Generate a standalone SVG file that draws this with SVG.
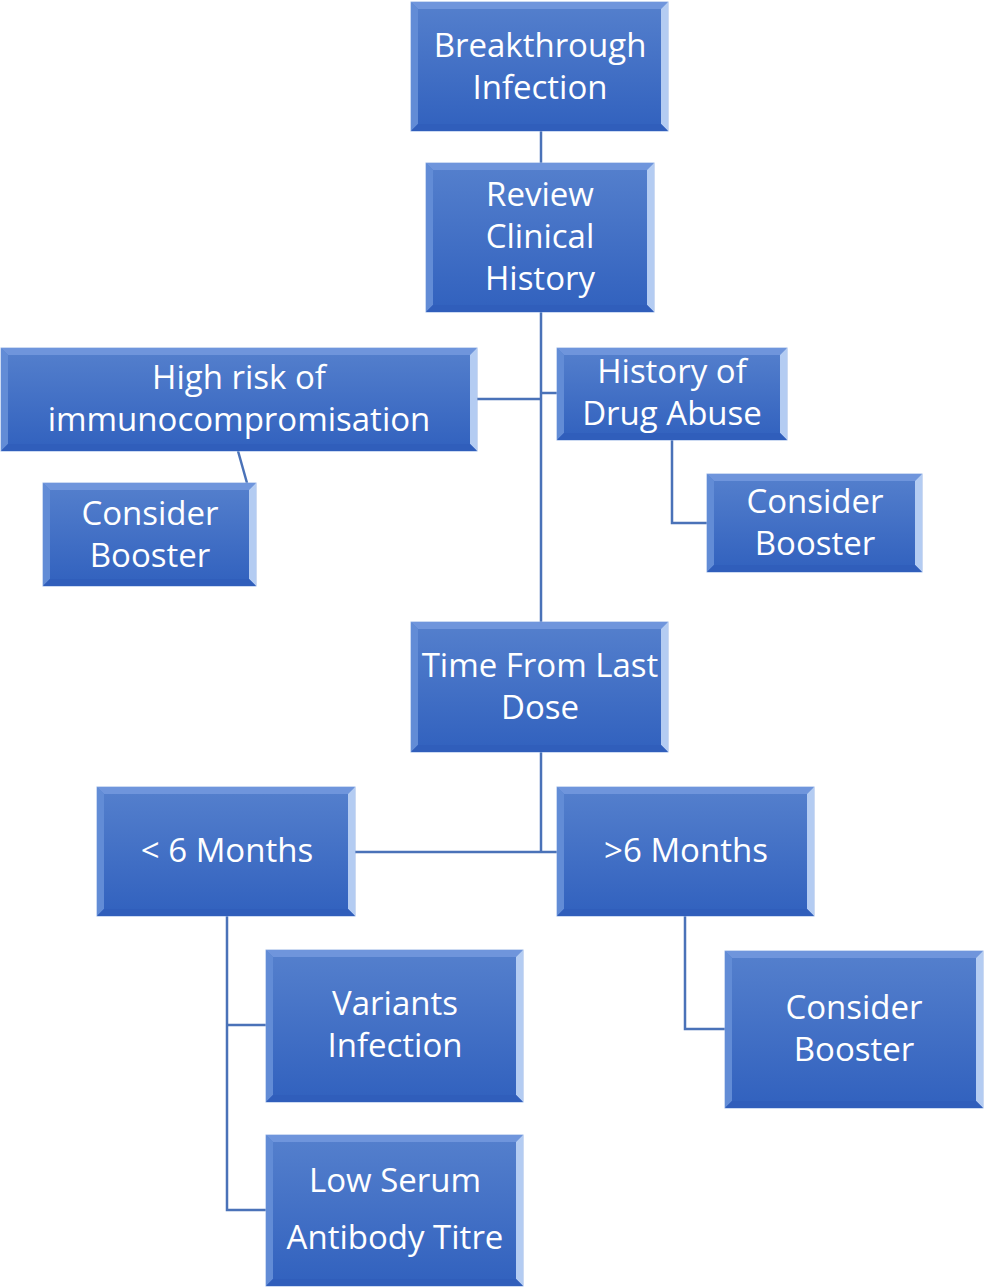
<svg xmlns="http://www.w3.org/2000/svg" width="984" height="1287" viewBox="0 0 984 1287">
<defs>
<linearGradient id="fill" x1="0" y1="0" x2="0" y2="1">
<stop offset="0" stop-color="#5580cd"/>
<stop offset="1" stop-color="#3161be"/>
</linearGradient>
</defs>
<style>
.box{fill:url(#fill);stroke:#9ab6e6;stroke-width:1}
.bt{fill:#6f95dc}
.bl{fill:#628cd6}
.br{fill:#b4ccf2}
.bb{fill:#305ebb}
.lbl{font-family:"Open Sans","Liberation Sans",sans-serif;font-size:33px;fill:#ffffff;text-anchor:middle}
.conn{fill:none;stroke:#4a72b8;stroke-width:2.5}
</style>
<g id="connectors">
<path class="conn" d="M541,131 V163"/>
<path class="conn" d="M541,312 V622"/>
<path class="conn" d="M477,399 H541"/>
<path class="conn" d="M541,393 H557"/>
<path class="conn" d="M238,451 L247,483"/>
<path class="conn" d="M672,440 V523 H707"/>
<path class="conn" d="M541,752 V852"/>
<path class="conn" d="M355,852 H557"/>
<path class="conn" d="M227,916 V1210 H266"/>
<path class="conn" d="M227,1025 H266"/>
<path class="conn" d="M685,916 V1029 H725"/>
</g>
<g id="n1">
<rect class="box" x="411" y="2" width="257" height="129"/>
<polygon class="bt" points="411,2 668,2 661,9 418,9"/>
<polygon class="bl" points="411,2 418,9 418,124 411,131"/>
<polygon class="br" points="668,2 668,131 661,124 661,9"/>
<polygon class="bb" points="411,131 668,131 661,124 418,124"/>
<text class="lbl" x="540" y="57">Breakthrough</text>
<text class="lbl" x="540" y="99">Infection</text>
</g>
<g id="n2">
<rect class="box" x="426" y="163" width="228" height="149"/>
<polygon class="bt" points="426,163 654,163 647,170 433,170"/>
<polygon class="bl" points="426,163 433,170 433,305 426,312"/>
<polygon class="br" points="654,163 654,312 647,305 647,170"/>
<polygon class="bb" points="426,312 654,312 647,305 433,305"/>
<text class="lbl" x="540" y="206">Review</text>
<text class="lbl" x="540" y="248">Clinical</text>
<text class="lbl" x="540" y="290">History</text>
</g>
<g id="n3">
<rect class="box" x="1" y="348" width="476" height="103"/>
<polygon class="bt" points="1,348 477,348 470,355 8,355"/>
<polygon class="bl" points="1,348 8,355 8,444 1,451"/>
<polygon class="br" points="477,348 477,451 470,444 470,355"/>
<polygon class="bb" points="1,451 477,451 470,444 8,444"/>
<text class="lbl" x="239" y="389">High risk of</text>
<text class="lbl" x="239" y="431">immunocompromisation</text>
</g>
<g id="n4">
<rect class="box" x="43" y="483" width="213" height="103"/>
<polygon class="bt" points="43,483 256,483 249,490 50,490"/>
<polygon class="bl" points="43,483 50,490 50,579 43,586"/>
<polygon class="br" points="256,483 256,586 249,579 249,490"/>
<polygon class="bb" points="43,586 256,586 249,579 50,579"/>
<text class="lbl" x="150" y="525">Consider</text>
<text class="lbl" x="150" y="567">Booster</text>
</g>
<g id="n5">
<rect class="box" x="557" y="348" width="230" height="92"/>
<polygon class="bt" points="557,348 787,348 780,355 564,355"/>
<polygon class="bl" points="557,348 564,355 564,433 557,440"/>
<polygon class="br" points="787,348 787,440 780,433 780,355"/>
<polygon class="bb" points="557,440 787,440 780,433 564,433"/>
<text class="lbl" x="672" y="383">History of</text>
<text class="lbl" x="672" y="425">Drug Abuse</text>
</g>
<g id="n6">
<rect class="box" x="707" y="474" width="215" height="98"/>
<polygon class="bt" points="707,474 922,474 915,481 714,481"/>
<polygon class="bl" points="707,474 714,481 714,565 707,572"/>
<polygon class="br" points="922,474 922,572 915,565 915,481"/>
<polygon class="bb" points="707,572 922,572 915,565 714,565"/>
<text class="lbl" x="815" y="513">Consider</text>
<text class="lbl" x="815" y="555">Booster</text>
</g>
<g id="n7">
<rect class="box" x="411" y="622" width="257" height="130"/>
<polygon class="bt" points="411,622 668,622 661,629 418,629"/>
<polygon class="bl" points="411,622 418,629 418,745 411,752"/>
<polygon class="br" points="668,622 668,752 661,745 661,629"/>
<polygon class="bb" points="411,752 668,752 661,745 418,745"/>
<text class="lbl" x="540" y="677">Time From Last</text>
<text class="lbl" x="540" y="719">Dose</text>
</g>
<g id="n8">
<rect class="box" x="97" y="787" width="258" height="129"/>
<polygon class="bt" points="97,787 355,787 348,794 104,794"/>
<polygon class="bl" points="97,787 104,794 104,909 97,916"/>
<polygon class="br" points="355,787 355,916 348,909 348,794"/>
<polygon class="bb" points="97,916 355,916 348,909 104,909"/>
<text class="lbl" x="227" y="862">&lt; 6 Months</text>
</g>
<g id="n9">
<rect class="box" x="557" y="787" width="257" height="129"/>
<polygon class="bt" points="557,787 814,787 807,794 564,794"/>
<polygon class="bl" points="557,787 564,794 564,909 557,916"/>
<polygon class="br" points="814,787 814,916 807,909 807,794"/>
<polygon class="bb" points="557,916 814,916 807,909 564,909"/>
<text class="lbl" x="686" y="862">&gt;6 Months</text>
</g>
<g id="n10">
<rect class="box" x="725" y="951" width="258" height="157"/>
<polygon class="bt" points="725,951 983,951 976,958 732,958"/>
<polygon class="bl" points="725,951 732,958 732,1101 725,1108"/>
<polygon class="br" points="983,951 983,1108 976,1101 976,958"/>
<polygon class="bb" points="725,1108 983,1108 976,1101 732,1101"/>
<text class="lbl" x="854" y="1019">Consider</text>
<text class="lbl" x="854" y="1061">Booster</text>
</g>
<g id="n11">
<rect class="box" x="266" y="950" width="257" height="152"/>
<polygon class="bt" points="266,950 523,950 516,957 273,957"/>
<polygon class="bl" points="266,950 273,957 273,1095 266,1102"/>
<polygon class="br" points="523,950 523,1102 516,1095 516,957"/>
<polygon class="bb" points="266,1102 523,1102 516,1095 273,1095"/>
<text class="lbl" x="395" y="1015">Variants</text>
<text class="lbl" x="395" y="1057">Infection</text>
</g>
<g id="n12">
<rect class="box" x="266" y="1135" width="257" height="151"/>
<polygon class="bt" points="266,1135 523,1135 516,1142 273,1142"/>
<polygon class="bl" points="266,1135 273,1142 273,1279 266,1286"/>
<polygon class="br" points="523,1135 523,1286 516,1279 516,1142"/>
<polygon class="bb" points="266,1286 523,1286 516,1279 273,1279"/>
<text class="lbl" x="395" y="1192">Low Serum</text>
<text class="lbl" x="395" y="1249">Antibody Titre</text>
</g>
</svg>
